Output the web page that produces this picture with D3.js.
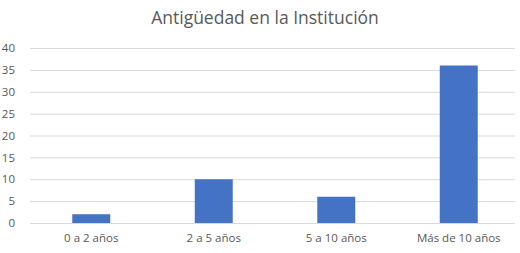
<!DOCTYPE html>
<html>
<head>
<meta charset="utf-8">
<script src="https://cdn.jsdelivr.net/npm/d3@7"></script>
<style>
  body { margin: 0; background: #fff; }
  text { font-family: "Open Sans", "Noto Sans", sans-serif; }
</style>
</head>
<body>
<svg id="chart"></svg>
<script>
// data
const categories = ["0 a 2 años", "2 a 5 años", "5 a 10 años", "Más de 10 años"];
const values = [2, 10, 6, 36];
const yTicks = [0, 5, 10, 15, 20, 25, 30, 35, 40];
const title = "Antigüedad en la Institución";

const width = 520, height = 253;
const margin = {top: 48, right: 0, bottom: 30, left: 30};

const svg = d3.select("#chart")
    .attr("width", width)
    .attr("height", height);

const innerW = width - margin.left - margin.right;
const innerH = height - margin.top - margin.bottom;

const chart = svg.append("g")
    .attr("transform", `translate(${margin.left}, ${margin.top})`);

const xscale = d3.scaleBand()
    .domain(categories)
    .range([0, innerW])
    .paddingInner(0.69)
    .paddingOuter(0.345);

const yscale = d3.scaleLinear()
    .domain([0, 40])
    .range([innerH, 0]);

// gridlines
chart.append("g")
    .selectAll("line")
    .data(yTicks)
    .enter()
    .append("line")
    .attr("x1", 0)
    .attr("x2", innerW - 5)
    .attr("y1", d => yscale(d) + 0.5)
    .attr("y2", d => yscale(d) + 0.5)
    .attr("stroke", "#d9d9d9")
    .attr("stroke-width", 1);

// y axis labels
const yaxis = d3.axisLeft(yscale)
    .tickValues(yTicks)
    .tickSize(0)
    .tickPadding(15);

chart.append("g")
    .call(yaxis)
    .call(g => g.select(".domain").remove())
    .call(g => g.selectAll("text")
        .attr("fill", "#595959")
        .attr("font-size", 11.5)
        .attr("font-family", "'Open Sans', sans-serif"));

// bars
chart.selectAll("rect.bar")
    .data(values)
    .enter()
    .append("rect")
    .attr("class", "bar")
    .attr("x", (d, i) => xscale(categories[i]))
    .attr("y", d => yscale(d))
    .attr("width", xscale.bandwidth())
    .attr("height", d => innerH - yscale(d))
    .attr("fill", "#4472c4");

// x axis
const xaxis = d3.axisBottom(xscale)
    .tickSize(0)
    .tickPadding(11);

chart.append("g")
    .attr("transform", `translate(0, ${innerH})`)
    .call(xaxis)
    .call(g => g.select(".domain").remove())
    .call(g => g.selectAll("text")
        .attr("fill", "#595959")
        .attr("font-size", 11.5)
        .attr("font-family", "'Open Sans', sans-serif"));

// title
svg.append("text")
    .attr("x", 265)
    .attr("y", 24)
    .attr("text-anchor", "middle")
    .attr("font-size", 17.5)
    .attr("fill", "#595959")
    .text(title);
</script>
</body>
</html>
